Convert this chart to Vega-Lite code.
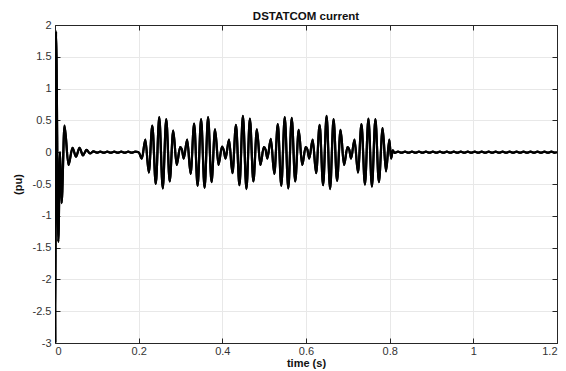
{
  "$schema": "https://vega.github.io/schema/vega-lite/v6.json",
  "width": 502,
  "height": 318,
  "autosize": {"type": "none"},
  "padding": {"left": 55, "top": 25, "right": 9, "bottom": 28},
  "background": "white",
  "config": {
    "font": "Liberation Sans",
    "view": {"stroke": "#262626", "strokeWidth": 1},
    "axis": {
      "labelFont": "Liberation Sans",
      "labelFontSize": 11,
      "labelColor": "#333333",
      "titleFont": "Liberation Sans",
      "titleFontSize": 11,
      "titleFontWeight": "bold",
      "titleColor": "#111111",
      "domainColor": "#262626",
      "tickColor": "#262626",
      "gridColor": "#e8e8e8",
      "gridWidth": 1
    }
  },
  "title": {
    "text": "DSTATCOM current",
    "fontSize": 11.5,
    "fontWeight": "bold",
    "font": "Liberation Sans",
    "color": "#111111",
    "anchor": "middle",
    "offset": -3
  },
  "data": {
    "values": [
      {"t": 0.0, "i": 0},
      {"t": 0.0008, "i": -3.0},
      {"t": 0.0024, "i": 1.9},
      {"t": 0.0079, "i": -1.41},
      {"t": 0.012, "i": 0.0},
      {"t": 0.0158, "i": -0.8},
      {"t": 0.0227, "i": 0.42},
      {"t": 0.0323, "i": -0.2},
      {"t": 0.0418, "i": 0.07},
      {"t": 0.0502, "i": -0.07},
      {"t": 0.0586, "i": 0.07},
      {"t": 0.0669, "i": -0.05},
      {"t": 0.0753, "i": 0.035},
      {"t": 0.0837, "i": -0.02},
      {"t": 0.092, "i": 0.012},
      {"t": 0.1, "i": -0.008},
      {"t": 0.1083, "i": 0.008},
      {"t": 0.1167, "i": -0.008},
      {"t": 0.125, "i": 0.008},
      {"t": 0.1333, "i": -0.008},
      {"t": 0.1417, "i": 0.008},
      {"t": 0.15, "i": -0.008},
      {"t": 0.1583, "i": 0.008},
      {"t": 0.1667, "i": -0.008},
      {"t": 0.175, "i": 0.008},
      {"t": 0.1833, "i": -0.008},
      {"t": 0.1917, "i": 0.008},
      {"t": 0.2, "i": 0.0},
      {"t": 0.2076, "i": -0.1},
      {"t": 0.2159, "i": 0.2},
      {"t": 0.2242, "i": -0.32},
      {"t": 0.2326, "i": 0.42},
      {"t": 0.2409, "i": -0.5},
      {"t": 0.2492, "i": 0.55},
      {"t": 0.2576, "i": -0.57},
      {"t": 0.2659, "i": 0.52},
      {"t": 0.2742, "i": -0.46},
      {"t": 0.2826, "i": 0.34},
      {"t": 0.2909, "i": -0.2},
      {"t": 0.2992, "i": 0.08},
      {"t": 0.3034, "i": 0.04},
      {"t": 0.3076, "i": -0.1},
      {"t": 0.3159, "i": 0.2},
      {"t": 0.3242, "i": -0.34},
      {"t": 0.3326, "i": 0.45},
      {"t": 0.3409, "i": -0.53},
      {"t": 0.3492, "i": 0.52},
      {"t": 0.3576, "i": -0.56},
      {"t": 0.3659, "i": 0.55},
      {"t": 0.3742, "i": -0.47},
      {"t": 0.3826, "i": 0.36},
      {"t": 0.3909, "i": -0.2},
      {"t": 0.3992, "i": 0.09},
      {"t": 0.4034, "i": 0.03},
      {"t": 0.4076, "i": -0.1},
      {"t": 0.4159, "i": 0.2},
      {"t": 0.4242, "i": -0.33},
      {"t": 0.4326, "i": 0.43},
      {"t": 0.4409, "i": -0.52},
      {"t": 0.4492, "i": 0.57},
      {"t": 0.4576, "i": -0.58},
      {"t": 0.4659, "i": 0.53},
      {"t": 0.4742, "i": -0.46},
      {"t": 0.4826, "i": 0.36},
      {"t": 0.4909, "i": -0.2},
      {"t": 0.4992, "i": 0.08},
      {"t": 0.5034, "i": 0.04},
      {"t": 0.5076, "i": -0.1},
      {"t": 0.5159, "i": 0.21},
      {"t": 0.5242, "i": -0.34},
      {"t": 0.5326, "i": 0.44},
      {"t": 0.5409, "i": -0.53},
      {"t": 0.5492, "i": 0.55},
      {"t": 0.5576, "i": -0.57},
      {"t": 0.5659, "i": 0.54},
      {"t": 0.5742, "i": -0.46},
      {"t": 0.5826, "i": 0.35},
      {"t": 0.5909, "i": -0.2},
      {"t": 0.5992, "i": 0.08},
      {"t": 0.6034, "i": 0.04},
      {"t": 0.6076, "i": -0.1},
      {"t": 0.6159, "i": 0.2},
      {"t": 0.6242, "i": -0.33},
      {"t": 0.6326, "i": 0.43},
      {"t": 0.6409, "i": -0.52},
      {"t": 0.6492, "i": 0.57},
      {"t": 0.6576, "i": -0.58},
      {"t": 0.6659, "i": 0.52},
      {"t": 0.6742, "i": -0.45},
      {"t": 0.6826, "i": 0.35},
      {"t": 0.6909, "i": -0.2},
      {"t": 0.6992, "i": 0.08},
      {"t": 0.7034, "i": 0.04},
      {"t": 0.7076, "i": -0.1},
      {"t": 0.7159, "i": 0.2},
      {"t": 0.7242, "i": -0.32},
      {"t": 0.7326, "i": 0.44},
      {"t": 0.7409, "i": -0.51},
      {"t": 0.7492, "i": 0.53},
      {"t": 0.7576, "i": -0.54},
      {"t": 0.7659, "i": 0.52},
      {"t": 0.7742, "i": -0.47},
      {"t": 0.7832, "i": 0.38},
      {"t": 0.7912, "i": -0.3},
      {"t": 0.7992, "i": 0.2},
      {"t": 0.8034, "i": -0.1},
      {"t": 0.8075, "i": 0.03},
      {"t": 0.8117, "i": -0.012},
      {"t": 0.82, "i": 0.008},
      {"t": 0.8283, "i": -0.008},
      {"t": 0.8367, "i": 0.008},
      {"t": 0.845, "i": -0.008},
      {"t": 0.8533, "i": 0.008},
      {"t": 0.8617, "i": -0.008},
      {"t": 0.87, "i": 0.008},
      {"t": 0.8783, "i": -0.008},
      {"t": 0.8867, "i": 0.008},
      {"t": 0.895, "i": -0.008},
      {"t": 0.9033, "i": 0.008},
      {"t": 0.9117, "i": -0.008},
      {"t": 0.92, "i": 0.008},
      {"t": 0.9283, "i": -0.008},
      {"t": 0.9367, "i": 0.008},
      {"t": 0.945, "i": -0.008},
      {"t": 0.9533, "i": 0.008},
      {"t": 0.9617, "i": -0.008},
      {"t": 0.97, "i": 0.008},
      {"t": 0.9783, "i": -0.008},
      {"t": 0.9867, "i": 0.008},
      {"t": 0.995, "i": -0.008},
      {"t": 1.0033, "i": 0.008},
      {"t": 1.0117, "i": -0.008},
      {"t": 1.02, "i": 0.008},
      {"t": 1.0283, "i": -0.008},
      {"t": 1.0367, "i": 0.008},
      {"t": 1.045, "i": -0.008},
      {"t": 1.0533, "i": 0.008},
      {"t": 1.0617, "i": -0.008},
      {"t": 1.07, "i": 0.008},
      {"t": 1.0783, "i": -0.008},
      {"t": 1.0867, "i": 0.008},
      {"t": 1.095, "i": -0.008},
      {"t": 1.1033, "i": 0.008},
      {"t": 1.1117, "i": -0.008},
      {"t": 1.12, "i": 0.008},
      {"t": 1.1283, "i": -0.008},
      {"t": 1.1367, "i": 0.008},
      {"t": 1.145, "i": -0.008},
      {"t": 1.1533, "i": 0.008},
      {"t": 1.1617, "i": -0.008},
      {"t": 1.17, "i": 0.008},
      {"t": 1.1783, "i": -0.008},
      {"t": 1.1867, "i": 0.008},
      {"t": 1.195, "i": -0.008},
      {"t": 1.2, "i": 0.0}
    ]
  },
  "layer": [
    {
      "mark": {"type": "line", "color": "#000000", "strokeWidth": 2.2, "interpolate": "monotone", "clip": true},
      "encoding": {
        "x": {
          "field": "t", "type": "quantitative",
          "scale": {"domain": [0, 1.2], "nice": false, "zero": false},
          "axis": {"orient": "bottom", "title": "time (s)", "values": [0, 0.2, 0.4, 0.6, 0.8, 1, 1.2], "labelExpr": "'' + datum.value", "grid": true, "tickSize": -5, "labelPadding": 7, "titlePadding": 1}
        },
        "y": {
          "field": "i", "type": "quantitative",
          "scale": {"domain": [-3, 2], "nice": false, "zero": false},
          "axis": {"orient": "left", "title": "(pu)", "values": [-3, -2.5, -2, -1.5, -1, -0.5, 0, 0.5, 1, 1.5, 2], "labelExpr": "'' + datum.value", "grid": true, "tickSize": -5, "labelPadding": 9, "titlePadding": 9}
        }
      }
    },
    {
      "mark": {"type": "line", "color": "#000000", "strokeWidth": 2.2, "interpolate": "monotone", "clip": true},
      "encoding": {
        "x": {
          "field": "t", "type": "quantitative",
          "scale": {"domain": [0, 1.2], "nice": false, "zero": false},
          "axis": {"orient": "top", "title": null, "values": [0, 0.2, 0.4, 0.6, 0.8, 1, 1.2], "labels": false, "grid": false, "tickSize": -5}
        },
        "y": {
          "field": "i", "type": "quantitative",
          "scale": {"domain": [-3, 2], "nice": false, "zero": false},
          "axis": {"orient": "right", "title": null, "values": [-3, -2.5, -2, -1.5, -1, -0.5, 0, 0.5, 1, 1.5, 2], "labels": false, "grid": false, "tickSize": -5}
        }
      }
    }
  ],
  "resolve": {"axis": {"x": "independent", "y": "independent"}}
}
